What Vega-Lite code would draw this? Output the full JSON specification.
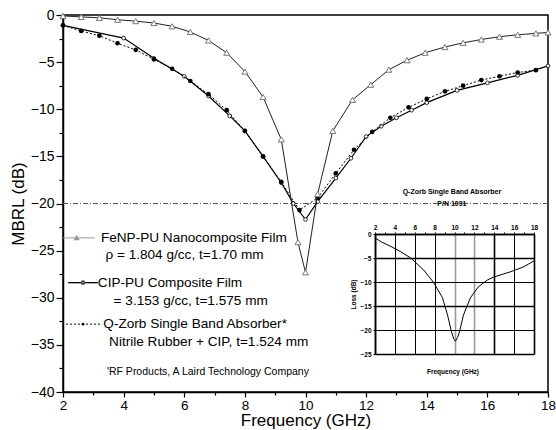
{
  "$schema": "https://vega.github.io/schema/vega-lite/v6.json",
  "width": 485,
  "height": 377,
  "autosize": {"type": "none"},
  "padding": {"left": 63, "top": 15, "right": 8, "bottom": 38},
  "background": "white",
  "config": {
    "view": {"stroke": "black", "strokeWidth": 1.5},
    "font": "Liberation Sans"
  },
  "datasets": {
    "curves": [
      {"s": "FeNP", "x": 2.0, "y": -0.1}, {"s": "FeNP", "x": 2.6, "y": -0.2}, {"s": "FeNP", "x": 3.2, "y": -0.3},
      {"s": "FeNP", "x": 3.8, "y": -0.5}, {"s": "FeNP", "x": 4.4, "y": -0.65}, {"s": "FeNP", "x": 5.0, "y": -0.85},
      {"s": "FeNP", "x": 5.6, "y": -1.2}, {"s": "FeNP", "x": 6.2, "y": -1.8}, {"s": "FeNP", "x": 6.8, "y": -2.7},
      {"s": "FeNP", "x": 7.4, "y": -4.0}, {"s": "FeNP", "x": 8.0, "y": -6.0}, {"s": "FeNP", "x": 8.6, "y": -8.7},
      {"s": "FeNP", "x": 9.2, "y": -13.2}, {"s": "FeNP", "x": 9.75, "y": -24.1}, {"s": "FeNP", "x": 10.0, "y": -27.3},
      {"s": "FeNP", "x": 10.4, "y": -19.0}, {"s": "FeNP", "x": 10.9, "y": -12.3}, {"s": "FeNP", "x": 11.55, "y": -9.0},
      {"s": "FeNP", "x": 12.15, "y": -7.4}, {"s": "FeNP", "x": 12.75, "y": -5.8}, {"s": "FeNP", "x": 13.35, "y": -4.8},
      {"s": "FeNP", "x": 13.95, "y": -4.0}, {"s": "FeNP", "x": 14.6, "y": -3.4}, {"s": "FeNP", "x": 15.2, "y": -2.95},
      {"s": "FeNP", "x": 15.8, "y": -2.6}, {"s": "FeNP", "x": 16.4, "y": -2.3}, {"s": "FeNP", "x": 17.0, "y": -2.1},
      {"s": "FeNP", "x": 17.6, "y": -1.95}, {"s": "FeNP", "x": 18.0, "y": -1.85},
      {"s": "CIP", "x": 2.0, "y": -1.1}, {"s": "CIP", "x": 4.0, "y": -2.45}, {"s": "CIP", "x": 5.0, "y": -4.6},
      {"s": "CIP", "x": 6.0, "y": -6.5}, {"s": "CIP", "x": 6.8, "y": -8.6}, {"s": "CIP", "x": 7.5, "y": -10.7},
      {"s": "CIP", "x": 8.0, "y": -12.3}, {"s": "CIP", "x": 8.6, "y": -15.0}, {"s": "CIP", "x": 9.2, "y": -17.8},
      {"s": "CIP", "x": 9.6, "y": -20.0}, {"s": "CIP", "x": 10.0, "y": -21.7}, {"s": "CIP", "x": 10.4, "y": -19.8},
      {"s": "CIP", "x": 11.0, "y": -17.3}, {"s": "CIP", "x": 11.5, "y": -15.2}, {"s": "CIP", "x": 12.0, "y": -12.9},
      {"s": "CIP", "x": 12.5, "y": -11.8}, {"s": "CIP", "x": 13.0, "y": -10.9}, {"s": "CIP", "x": 13.5, "y": -10.1},
      {"s": "CIP", "x": 14.0, "y": -9.3}, {"s": "CIP", "x": 15.0, "y": -8.0}, {"s": "CIP", "x": 16.0, "y": -7.2},
      {"s": "CIP", "x": 17.0, "y": -6.4}, {"s": "CIP", "x": 18.0, "y": -5.4},
      {"s": "QZ", "x": 2.0, "y": -1.1}, {"s": "QZ", "x": 2.6, "y": -1.7}, {"s": "QZ", "x": 3.2, "y": -2.2},
      {"s": "QZ", "x": 3.8, "y": -3.0}, {"s": "QZ", "x": 4.4, "y": -3.7}, {"s": "QZ", "x": 5.0, "y": -4.7},
      {"s": "QZ", "x": 5.6, "y": -5.7}, {"s": "QZ", "x": 6.2, "y": -7.0}, {"s": "QZ", "x": 6.8, "y": -8.4},
      {"s": "QZ", "x": 7.4, "y": -10.1}, {"s": "QZ", "x": 8.0, "y": -12.3}, {"s": "QZ", "x": 8.6, "y": -15.0},
      {"s": "QZ", "x": 9.2, "y": -17.7}, {"s": "QZ", "x": 9.8, "y": -20.7}, {"s": "QZ", "x": 10.4, "y": -19.4},
      {"s": "QZ", "x": 11.0, "y": -16.8}, {"s": "QZ", "x": 11.6, "y": -14.3}, {"s": "QZ", "x": 12.2, "y": -12.4},
      {"s": "QZ", "x": 12.8, "y": -10.9}, {"s": "QZ", "x": 13.4, "y": -9.8}, {"s": "QZ", "x": 14.0, "y": -8.9},
      {"s": "QZ", "x": 14.6, "y": -8.1}, {"s": "QZ", "x": 15.2, "y": -7.5}, {"s": "QZ", "x": 15.8, "y": -6.9},
      {"s": "QZ", "x": 16.4, "y": -6.5}, {"s": "QZ", "x": 17.0, "y": -6.1}, {"s": "QZ", "x": 17.6, "y": -5.85}
    ],
    "legend": [
      {"s": "FeNP", "x": 2.0, "y": -23.65}, {"s": "FeNP", "x": 3.05, "y": -23.65},
      {"s": "CIP", "x": 2.17, "y": -28.4}, {"s": "CIP", "x": 3.15, "y": -28.4},
      {"s": "QZ", "x": 2.1, "y": -32.8}, {"s": "QZ", "x": 3.22, "y": -32.8}
    ],
    "legendText": [
      {"x": 3.25, "y": -23.65, "t": "FeNP-PU Nanocomposite Film"},
      {"x": 3.4, "y": -25.45, "t": "ρ = 1.804 g/cc, t=1.70 mm"},
      {"x": 3.15, "y": -28.4, "t": "CIP-PU Composite Film"},
      {"x": 3.67, "y": -30.33, "t": "= 3.153 g/cc, t=1.575 mm"},
      {"x": 3.33, "y": -32.8, "t": "Q-Zorb Single Band Absorber*"},
      {"x": 3.52, "y": -34.68, "t": "Nitrile Rubber + CIP, t=1.524 mm"}
    ],
    "inset": [
      {"x": 2.0, "y": -0.8}, {"x": 2.6, "y": -1.6}, {"x": 3.6, "y": -2.6}, {"x": 4.6, "y": -3.7},
      {"x": 5.6, "y": -5.0}, {"x": 6.9, "y": -7.5}, {"x": 7.9, "y": -10.1}, {"x": 8.8, "y": -13.3},
      {"x": 9.3, "y": -16.9}, {"x": 9.7, "y": -20.4}, {"x": 9.95, "y": -22.0}, {"x": 10.1, "y": -22.3},
      {"x": 10.3, "y": -21.6}, {"x": 10.5, "y": -20.4}, {"x": 10.9, "y": -16.9}, {"x": 11.6, "y": -13.3},
      {"x": 12.4, "y": -11.0}, {"x": 13.3, "y": -9.6}, {"x": 13.9, "y": -9.0}, {"x": 15.6, "y": -7.9},
      {"x": 16.9, "y": -6.9}, {"x": 18.0, "y": -5.6}
    ]
  },
  "layer": [
    {
      "encoding": {
        "x": {
          "field": "x", "type": "quantitative",
          "scale": {"domain": [2, 18], "nice": false, "zero": false},
          "axis": {
            "orient": "bottom", "values": [2,3,4,5,6,7,8,9,10,11,12,13,14,15,16,17,18],
            "labelExpr": "datum.value % 2 == 0 ? datum.label : ''",
            "tickSize": {"condition": {"test": "datum.value % 2 != 0", "value": 3}, "value": 5},
            "grid": false, "domainColor": "black", "domainWidth": 1.5, "tickColor": "black", "tickWidth": 1.2,
            "labelFontSize": 13.5, "labelColor": "black", "labelPadding": 1, "labelFlush": false,
            "title": "Frequency (GHz)", "titleFontSize": 17, "titleFontWeight": "normal", "titleColor": "black", "titlePadding": 1
          }
        },
        "y": {
          "field": "y", "type": "quantitative",
          "scale": {"domain": [-40, 0], "nice": false, "zero": false},
          "axis": {
            "orient": "left", "values": [0,-2.5,-5,-7.5,-10,-12.5,-15,-17.5,-20,-22.5,-25,-27.5,-30,-32.5,-35,-37.5,-40],
            "labelExpr": "datum.value % 5 == 0 ? datum.label : ''",
            "tickSize": {"condition": {"test": "datum.value % 5 != 0", "value": 4}, "value": 7},
            "grid": false, "domainColor": "black", "domainWidth": 1.5, "tickColor": "black", "tickWidth": 1.2,
            "labelFontSize": 14, "labelColor": "black", "labelPadding": 2, "labelFlush": false,
            "title": "MBRL (dB)", "titleFontSize": 17, "titleFontWeight": "normal", "titleColor": "black", "titlePadding": 3
          }
        }
      },
      "layer": [
        {"data": {"values": [{"x": 2, "y": -20}, {"x": 18, "y": -20}]},
         "mark": {"type": "line", "color": "#555", "strokeWidth": 1, "strokeDash": [5, 2, 1, 2]}},
        {"data": {"name": "curves"}, "transform": [{"filter": "datum.s == 'CIP'"}],
         "mark": {"type": "line", "color": "black", "strokeWidth": 1.2}},
        {"data": {"name": "curves"}, "transform": [{"filter": "datum.s == 'CIP'"}],
         "mark": {"type": "point", "shape": "circle", "filled": true, "fill": "white", "stroke": "black", "strokeWidth": 0.8, "size": 14, "opacity": 1}},
        {"data": {"name": "curves"}, "transform": [{"filter": "datum.s == 'QZ'"}],
         "mark": {"type": "line", "color": "black", "strokeWidth": 1, "strokeDash": [2, 2]}},
        {"data": {"name": "curves"}, "transform": [{"filter": "datum.s == 'QZ'"}],
         "mark": {"type": "circle", "color": "black", "size": 22, "opacity": 1}},
        {"data": {"name": "curves"}, "transform": [{"filter": "datum.s == 'FeNP'"}],
         "mark": {"type": "line", "color": "#222", "strokeWidth": 1}},
        {"data": {"name": "curves"}, "transform": [{"filter": "datum.s == 'FeNP'"}],
         "mark": {"type": "point", "shape": "triangle-up", "filled": true, "fill": "white", "stroke": "#777", "strokeWidth": 1, "size": 36, "opacity": 1}},
        {"data": {"name": "legend"}, "transform": [{"filter": "datum.s == 'FeNP'"}],
         "mark": {"type": "line", "color": "#999", "strokeWidth": 1}},
        {"data": {"name": "legend"}, "transform": [{"filter": "datum.s == 'CIP'"}],
         "mark": {"type": "line", "color": "black", "strokeWidth": 1.3}},
        {"data": {"name": "legend"}, "transform": [{"filter": "datum.s == 'QZ'"}],
         "mark": {"type": "line", "color": "black", "strokeWidth": 1, "strokeDash": [2, 2]}},
        {"data": {"values": [{"x": 2.45, "y": -23.65}]},
         "mark": {"type": "point", "shape": "triangle-up", "filled": true, "fill": "white", "stroke": "#999", "size": 8, "opacity": 1}},
        {"data": {"values": [{"x": 2.66, "y": -28.4}]},
         "mark": {"type": "point", "shape": "circle", "filled": true, "fill": "white", "stroke": "#555", "size": 8, "opacity": 1}},
        {"data": {"values": [{"x": 2.66, "y": -32.8}]},
         "mark": {"type": "circle", "color": "black", "size": 8, "opacity": 1}},
        {"data": {"name": "legendText"},
         "mark": {"type": "text", "align": "left", "baseline": "middle", "fontSize": 13.6, "color": "black"},
         "encoding": {"text": {"field": "t"}}},
        {"data": {"values": [{"x": 3.45, "y": -37.86, "t": "'RF Products, A Laird Technology Company"}]},
         "mark": {"type": "text", "align": "left", "baseline": "middle", "fontSize": 10.5, "color": "black"},
         "encoding": {"text": {"field": "t"}}},
        {"data": {"values": [{"x": 14.83, "y": -18.8, "t": "Q-Zorb Single Band Absorber"}, {"x": 14.83, "y": -20.1, "t": "P/N 1091"}]},
         "mark": {"type": "text", "align": "center", "baseline": "middle", "fontSize": 7, "fontWeight": "bold", "color": "black"},
         "encoding": {"text": {"field": "t"}}}
      ]
    },
    {
      "encoding": {
        "x": {
          "field": "x", "type": "quantitative",
          "scale": {"domain": [2, 18], "range": [312, 471], "nice": false, "zero": false},
          "axis": {
            "orient": "top", "offset": -219, "values": [2,3,4,5,6,7,8,9,10,11,12,13,14,15,16,17,18],
            "labelExpr": "datum.value % 2 == 0 ? datum.label : ''",
            "tickSize": 2, "tickColor": "black", "domainColor": "black", "domainWidth": 1.5,
            "grid": true,
            "gridColor": {"condition": {"test": "datum.value == 10 || datum.value == 12", "value": "#9a9a9a"}, "value": "black"},
            "gridWidth": {"condition": {"test": "datum.value == 10 || datum.value == 12 || datum.value == 14 || datum.value == 2 || datum.value == 18", "value": 1.6}, "value": 1},
            "gridOpacity": {"condition": {"test": "datum.value % 2 != 0", "value": 0}, "value": 1},
            "labelFontSize": 6.5, "labelFontWeight": "bold",
            "labelColor": "black", "labelPadding": 2, "labelFlush": false, "title": null
          }
        },
        "y": {
          "field": "y", "type": "quantitative",
          "scale": {"domain": [-25, 0], "range": [339, 219], "nice": false, "zero": false},
          "axis": {
            "orient": "left", "offset": -312, "values": [0, -5, -10, -15, -20, -25],
            "tickSize": 2, "tickColor": "black", "domainColor": "black", "domainWidth": 1.5,
            "grid": true, "gridColor": "black",
            "gridWidth": {"condition": {"test": "datum.value == -10 || datum.value == -20", "value": 1}, "value": 1.6},
            "labelFontSize": 6.5, "labelFontWeight": "bold",
            "labelColor": "black", "labelPadding": 2, "labelFlush": false,
            "title": "Loss (dB)", "titleFontSize": 6.5, "titleFontWeight": "bold",
            "titleColor": "black", "titlePadding": 3
          }
        }
      },
      "layer": [
        {"data": {"name": "inset"}, "mark": {"type": "line", "color": "black", "strokeWidth": 1}},
        {"data": {"values": [{"x": 9.85, "y": -28.75, "t": "Frequency (GHz)"}]},
         "mark": {"type": "text", "align": "center", "baseline": "middle", "fontSize": 6.5, "fontWeight": "bold", "color": "black"},
         "encoding": {"text": {"field": "t"}}}
      ]
    }
  ],
  "resolve": {"scale": {"x": "independent", "y": "independent"}, "axis": {"x": "independent", "y": "independent"}}
}
